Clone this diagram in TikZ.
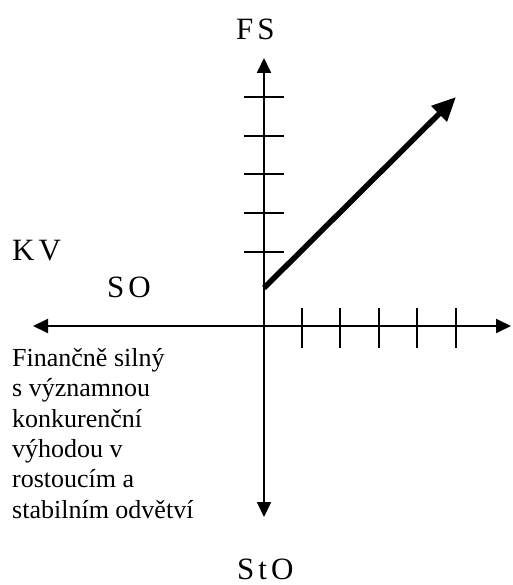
\documentclass[tikz,border=0pt]{standalone}
\usepackage{fontspec}
\setmainfont{Liberation Serif}
\newfontfamily\spacedfont[LetterSpace=13]{Liberation Serif}
\usetikzlibrary{arrows.meta}
\begin{document}
\begin{tikzpicture}[x=1pt,y=-1pt,
  axisline/.style={line width=2pt},
  axisarrow/.style={axisline,-{Triangle[length=15pt,width=14pt]}},
  tickline/.style={line width=2pt},
  biglabel/.style={font=\fontsize{31}{31}\spacedfont,inner sep=0pt,anchor=base west},
  para/.style={font=\fontsize{26}{30.4}\selectfont,inner sep=0pt,anchor=north west,align=left}]
\useasboundingbox (0,0) rectangle (512,585);
\coordinate (O) at (264,326);
\coordinate (top) at (264,58);
\coordinate (bottom) at (264,517);
\coordinate (left) at (33,326);
\coordinate (right) at (511,326);
\coordinate (s) at (264,288);
\coordinate (e) at (456,97);
\draw[axisarrow] (O) -- (top);
\draw[axisarrow] (O) -- (bottom);
\draw[axisline,{Triangle[length=15pt,width=14pt]}-{Triangle[length=15pt,width=14pt]}] (left) -- (right);
\foreach \y in {97,136,174,213,252} \draw[tickline] (244,\y) -- (284,\y);
\foreach \x in {302,340,379,417,456} \draw[tickline] (\x,308) -- (\x,348);
\draw[line width=5.5pt,-{Triangle[length=24pt,width=21pt]}] (s) -- (e);
\node[biglabel] (fs) at (236,40) {FS};
\node[biglabel] (kv) at (12,260) {KV};
\node[biglabel] (so) at (107,297) {SO};
\node[biglabel] (sto) at (237,579) {StO};
\node[para] (txt) at (12,348) {Finančně silný\\s významnou\\konkurenční\\výhodou v\\rostoucím a\\stabilním odvětví};
\end{tikzpicture}
\end{document}
